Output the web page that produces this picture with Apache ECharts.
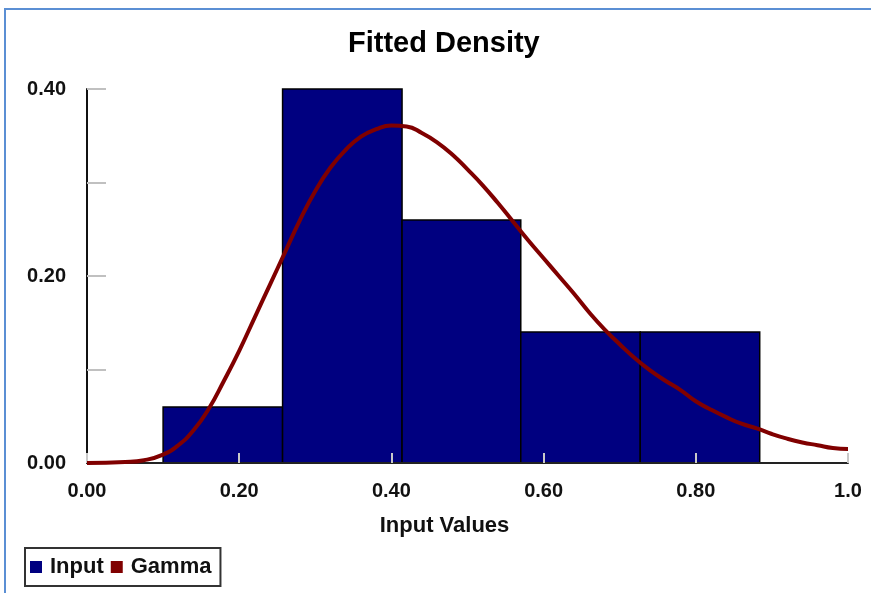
<!DOCTYPE html>
<html>
<head>
<meta charset="utf-8">
<script src="https://cdn.jsdelivr.net/npm/echarts@6/dist/echarts.min.js"></script>
<style>
html,body{margin:0;padding:0;background:#fff;}
#chart{width:871px;height:593px;}
</style>
</head>
<body>
<div id="chart"></div>
<script>
// Histogram bins (left edge, right edge) and relative frequencies
var binStarts = [0.100, 0.257, 0.414, 0.570, 0.727];
var binEnds   = [0.257, 0.414, 0.570, 0.727, 0.884];
var binHeights = [0.06, 0.40, 0.26, 0.14, 0.14];

// Fitted Gamma curve
var curveX = [0.000, 0.050, 0.075, 0.100, 0.120, 0.140, 0.160, 0.180, 0.200, 0.220, 0.240, 0.260, 0.280, 0.300, 0.320, 0.340, 0.360, 0.380, 0.400, 0.420, 0.440, 0.460, 0.480, 0.500, 0.520, 0.540, 0.560, 0.580, 0.600, 0.620, 0.640, 0.660, 0.680, 0.700, 0.720, 0.740, 0.760, 0.780, 0.800, 0.820, 0.840, 0.860, 0.880, 0.900, 0.920, 0.940, 0.960, 0.980, 1.000];
var curveY = [0.000, 0.001, 0.003, 0.009, 0.019, 0.035, 0.058, 0.088, 0.120, 0.155, 0.190, 0.225, 0.260, 0.291, 0.316, 0.335, 0.349, 0.357, 0.361, 0.360, 0.353, 0.343, 0.330, 0.314, 0.297, 0.278, 0.258, 0.238, 0.219, 0.200, 0.181, 0.161, 0.143, 0.127, 0.112, 0.099, 0.088, 0.078, 0.066, 0.057, 0.049, 0.042, 0.037, 0.031, 0.026, 0.022, 0.019, 0.016, 0.015];

var xTickLabels = ['0.00', '0.20', '0.40', '0.60', '0.80', '1.0'];
var yTickLabels = ['0.00', '', '0.20', '', '0.40'];

var barData = binStarts.map(function (s, i) { return [s, binEnds[i], binHeights[i]]; });
var lineData = curveX.map(function (x, i) { return [x, curveY[i]]; });

var chart = echarts.init(document.getElementById('chart'), null, {renderer: 'canvas'});
var font = 'Liberation Sans, Arial, sans-serif';

chart.setOption({
  animation: false,
  backgroundColor: '#ffffff',
  title: {
    text: 'Fitted Density',
    left: 348,
    top: 29,
    padding: 0,
    textStyle: {fontFamily: font, fontSize: 29, fontWeight: 'bold', color: '#000'}
  },
  legend: {
    data: ['Input', 'Gamma'],
    left: 25,
    top: 548,
    orient: 'horizontal',
    icon: 'rect',
    itemWidth: 12,
    itemHeight: 12,
    itemGap: 7,
    padding: [8, 9, 8, 5],
    borderColor: '#333',
    borderWidth: 2,
    textStyle: {fontFamily: font, fontSize: 22, fontWeight: 'bold', color: '#111', padding: [0, 0, 0, 3]}
  },
  graphic: [
    {type: 'line', shape: {x1: 4, y1: 9, x2: 871, y2: 9}, style: {stroke: '#5b8fd4', lineWidth: 2}, silent: true},
    {type: 'line', shape: {x1: 5, y1: 9, x2: 5, y2: 593}, style: {stroke: '#5b8fd4', lineWidth: 2}, silent: true}
  ],
  grid: {left: 87, right: 23, top: 89, bottom: 130, containLabel: false},
  xAxis: {
    type: 'value',
    min: 0, max: 1, interval: 0.2,
    z: 3,
    name: 'Input Values',
    nameLocation: 'middle',
    nameGap: 52,
    nameTextStyle: {fontFamily: font, fontSize: 22, fontWeight: 'bold', color: '#111', padding: [0, 46, 0, 0]},
    axisLine: {show: true, onZero: false, lineStyle: {color: '#222', width: 2}},
    axisTick: {show: true, inside: true, length: 10, lineStyle: {color: '#c8c8c8', width: 2}},
    axisLabel: {
      margin: 18,
      fontFamily: font, fontSize: 20, fontWeight: 'bold', color: '#111',
      formatter: function (v, i) { return xTickLabels[i]; }
    },
    splitLine: {show: false}
  },
  yAxis: {
    type: 'value',
    min: 0, max: 0.4, interval: 0.1,
    z: 3,
    axisLine: {show: true, lineStyle: {color: '#111', width: 2}},
    axisTick: {show: true, inside: true, length: 19, lineStyle: {color: '#c0c0c0', width: 2}},
    axisLabel: {
      margin: 21,
      fontFamily: font, fontSize: 20, fontWeight: 'bold', color: '#111',
      formatter: function (v, i) { return yTickLabels[i]; }
    },
    splitLine: {show: false}
  },
  series: [
    {
      name: 'Input',
      type: 'custom',
      z: 1,
      itemStyle: {color: '#000080'},
      encode: {x: [0, 1], y: 2},
      data: barData,
      renderItem: function (params, api) {
        var p0 = api.coord([api.value(0), 0]);
        var p1 = api.coord([api.value(1), api.value(2)]);
        return {
          type: 'rect',
          shape: {x: p0[0], y: p1[1], width: p1[0] - p0[0], height: p0[1] - p1[1]},
          style: {fill: '#000080', stroke: '#000', lineWidth: 1.5}
        };
      }
    },
    {
      name: 'Gamma',
      type: 'line',
      z: 5,
      smooth: true,
      showSymbol: false,
      itemStyle: {color: '#800000'},
      lineStyle: {color: '#800000', width: 4},
      data: lineData
    }
  ]
});
</script>
</body>
</html>
